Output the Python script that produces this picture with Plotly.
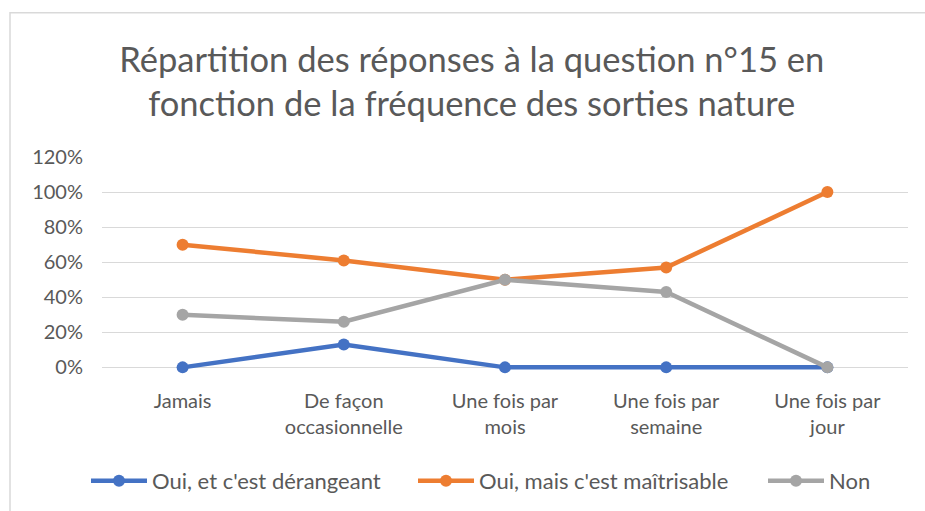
import plotly.graph_objects as go

categories = ["Jamais", "De façon occasionnelle", "Une fois par mois", "Une fois par semaine", "Une fois par jour"]
tick_labels = ["Jamais", "De façon<br>occasionnelle", "Une fois par<br>mois", "Une fois par<br>semaine", "Une fois par<br>jour"]
oui_derangeant = [0, 13, 0, 0, 0]
oui_maitrisable = [70, 61, 50, 57, 100]
non = [30, 26, 50, 43, 0]
series_names = ["Oui, et c'est dérangeant", "Oui, mais c'est maîtrisable", "Non"]
y_tickvals = [0, 20, 40, 60, 80, 100, 120]
y_ticktext = ["0%", "20%", "40%", "60%", "80%", "100%", "120%"]
colors = ["#4472C4", "#ED7D31", "#A5A5A5"]

FONT = "Lato"
TXT = "#595959"
W, H = 925, 511
legend_ids = ["legend", "legend2", "legend3"]
legend_left_px = [86, 413, 763]

Y_LO = -1.5
plot_h = 210 * (120 - Y_LO) / 120

fig = go.Figure()
for name, vals, col, lg in zip(series_names, [oui_derangeant, oui_maitrisable, non], colors, legend_ids):
    fig.add_trace(go.Scatter(
        x=categories, y=vals, name=name, mode="lines+markers",
        line=dict(color=col, width=4.5),
        marker=dict(color=col, size=12),
        cliponaxis=False, legend=lg,
    ))

legend_cfg = {}
for lg, px in zip(legend_ids, legend_left_px):
    legend_cfg[lg] = dict(
        orientation="h", xref="container", yref="container",
        x=px / W, xanchor="left", y=0.059, yanchor="middle",
        font=dict(family=FONT, size=22, color=TXT),
        bgcolor="rgba(0,0,0,0)", itemwidth=56,
    )

fig.update_layout(
    width=W, height=H,
    paper_bgcolor="white", plot_bgcolor="white",
    margin=dict(l=102, r=17, t=157, b=H - 157 - plot_h),
    title=dict(
        text="Répartition des réponses à la question n°15 en<br>fonction de la fréquence des sorties nature",
        x=0.51, xref="container", xanchor="center",
        y=0.86, yref="container", yanchor="middle",
        font=dict(family=FONT, size=34.5, color=TXT),
    ),
    font=dict(family=FONT, color=TXT, size=20),
    showlegend=True,
    xaxis=dict(
        tickmode="array", tickvals=categories, ticktext=tick_labels,
        showgrid=False, showline=False, zeroline=False, ticks="",
        tickfont=dict(family=FONT, size=20, color=TXT),
        range=[-0.5, 4.5], fixedrange=True, ticklabelstandoff=17,
    ),
    yaxis=dict(
        range=[Y_LO, 120], tickmode="array", tickvals=y_tickvals, ticktext=y_ticktext,
        showgrid=True, gridcolor="#D9D9D9", gridwidth=1.3,
        zeroline=False, showline=False, ticks="",
        tickfont=dict(family=FONT, size=20, color=TXT),
        ticklabelstandoff=18, fixedrange=True,
    ),
    shapes=[dict(
        type="rect", xref="paper", yref="paper",
        x0=(10 - 102) / 806, x1=(940 - 102) / 806,
        y0=-(530 - 157 - plot_h) / plot_h, y1=(157 + plot_h - 13) / plot_h,
        line=dict(color="#D9D9D9", width=1.5), fillcolor="rgba(0,0,0,0)",
        layer="above",
    )],
    **legend_cfg,
)

fig.write_html("out.html", config={"displayModeBar": False},
               post_script="document.body.style.margin='0';")
